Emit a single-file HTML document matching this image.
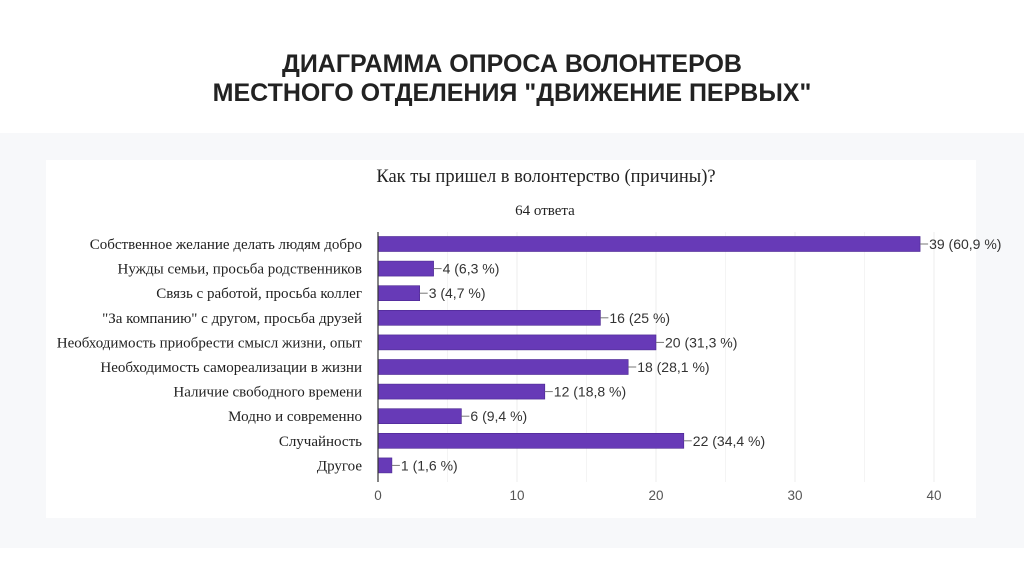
<!DOCTYPE html>
<html><head><meta charset="utf-8"><style>
body{margin:0;width:1024px;height:574px;background:#fff;font-family:"Liberation Sans",sans-serif;overflow:hidden;position:relative}
#title{position:absolute;left:0;width:1024px;top:50px;text-align:center;font-weight:bold;font-size:25px;line-height:29px;color:#222}
#band{position:absolute;left:0;top:133px;width:1024px;height:415px;background:#f7f8fa}
#card{position:absolute;left:46px;top:160px;width:930px;height:358px;background:#fff}
</style></head><body>
<div id="title">ДИАГРАММА ОПРОСА ВОЛОНТЕРОВ<br>МЕСТНОГО ОТДЕЛЕНИЯ "ДВИЖЕНИЕ ПЕРВЫХ"</div>
<div id="band"></div>
<div id="card"></div>
<svg id="chart" width="1024" height="574" style="position:absolute;left:0;top:0">
<text x="546" y="182" text-anchor="middle" font-family="Liberation Serif" font-size="18.5" fill="#222">Как ты пришел в волонтерство (причины)?</text>
<text x="545" y="215" text-anchor="middle" font-family="Liberation Serif" font-size="15" fill="#222">64 ответа</text>
</svg>
<script>
const categories=["Собственное желание делать людям добро","Нужды семьи, просьба родственников","Связь с работой, просьба коллег","\"За компанию\" с другом, просьба друзей","Необходимость приобрести смысл жизни, опыт","Необходимость самореализации в жизни","Наличие свободного времени","Модно и современно","Случайность","Другое"];
const values=[39,4,3,16,20,18,12,6,22,1];
const percents=["60,9","6,3","4,7","25","31,3","28,1","18,8","9,4","34,4","1,6"];
const ticks=[0,10,20,30,40];
const svg=document.getElementById('chart');const NS='http://www.w3.org/2000/svg';
const x0=378,x1=934,max=40;const xs=v=>x0+(x1-x0)*v/max;
const top0=232,step=24.6;const yc=i=>top0+step*i+12;
function mk(t,a){const e=document.createElementNS(NS,t);for(const k in a)e.setAttribute(k,a[k]);svg.appendChild(e);return e;}
ticks.forEach(t=>{if(t>0){const g=mk('line',{x1:xs(t),x2:xs(t),y1:top0,y2:top0+step*10+4,stroke:'#ececec'});


const h=mk('line',{x1:xs(t-5),x2:xs(t-5),y1:top0,y2:top0+step*10+4,stroke:'#f4f4f4'});

}
const tx=mk('text',{x:xs(t),y:500,'text-anchor':'middle','font-size':13.5,fill:'#555'});tx.textContent=t;

});
categories.forEach((c,i)=>{const y=yc(i);
const l=mk('text',{x:362,y:y+5,'text-anchor':'end','font-family':'Liberation Serif','font-size':15,fill:'#222'});l.textContent=c;


const b=mk('rect',{x:x0,y:y-7.5,width:xs(values[i])-x0,height:15,fill:'#673ab7',stroke:'#4a2690','stroke-width':0.6});


const ln=mk('line',{x1:xs(values[i]),x2:xs(values[i])+8,y1:y,y2:y,stroke:'#777'});


const v=mk('text',{x:xs(values[i])+9,y:y+5,'font-size':14,fill:'#333'});v.textContent=values[i]+' ('+percents[i]+' %)';

});
const ax=mk('line',{x1:x0,x2:x0,y1:top0,y2:top0+step*10+4,stroke:'#333','stroke-width':1.2});


</script>
</body></html>
